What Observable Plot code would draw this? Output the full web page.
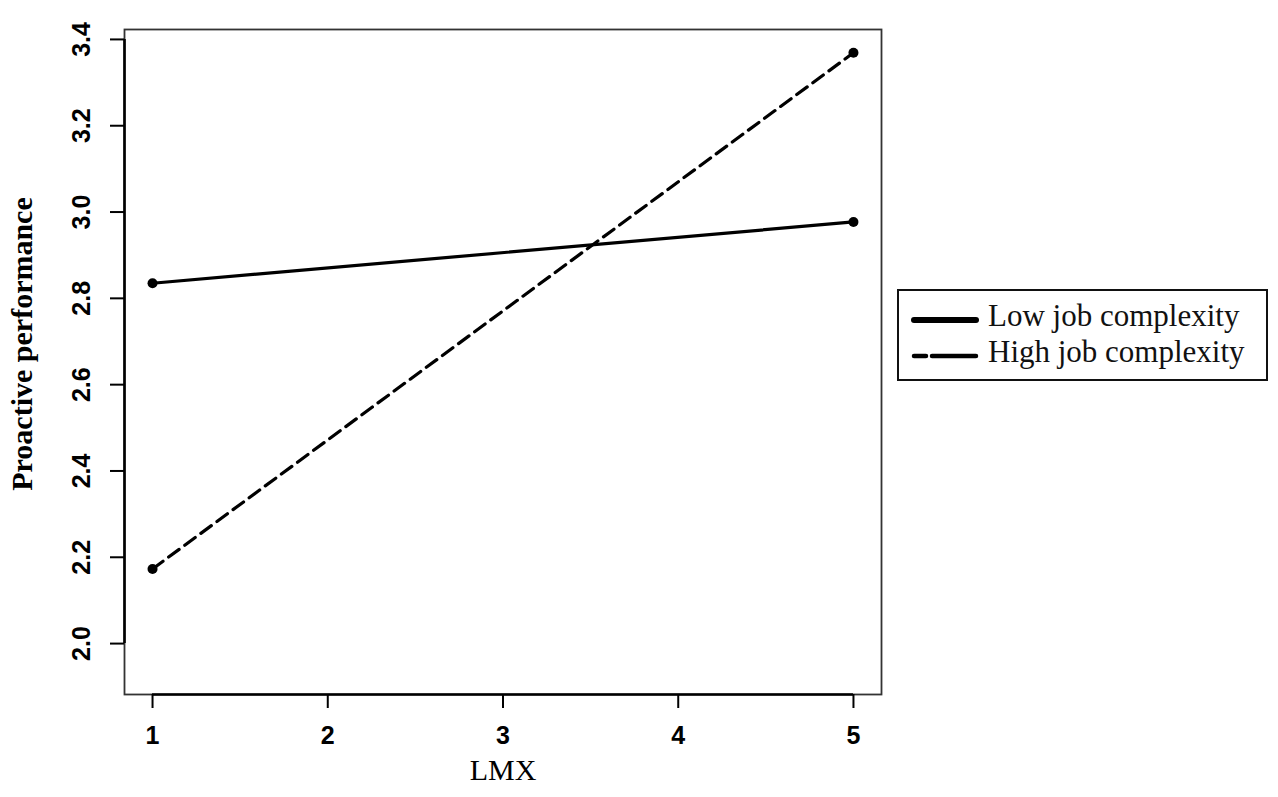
<!DOCTYPE html>
<html>
<head>
<meta charset="utf-8">
<script src="https://cdn.jsdelivr.net/npm/d3@7"></script>
<script src="https://cdn.jsdelivr.net/npm/@observablehq/plot@0.6"></script>
<style>
  html, body { margin: 0; padding: 0; background: #fff; }
  #wrap { position: relative; width: 1278px; height: 797px; }
  #legend { position: absolute; left: 897px; top: 289px; }
</style>
</head>
<body>
<div id="wrap"><div id="legend"></div></div>
<script>
// ---- data ----
const lmx = [1, 5];
const seriesNames = ["Low job complexity", "High job complexity"];
const lowValues = [2.835, 2.977];
const highValues = [2.173, 3.369];
const xTicks = [1, 2, 3, 4, 5];
const yTicks = [2.0, 2.2, 2.4, 2.6, 2.8, 3.0, 3.2, 3.4];
const xLabel = "LMX";
const yLabel = "Proactive performance";

const xDomain = [0.84, 5.16];
const yDomain = [1.882, 3.423];

const rows = [];
lmx.forEach((x, i) => rows.push({series: seriesNames[0], x, y: lowValues[i]}));
lmx.forEach((x, i) => rows.push({series: seriesNames[1], x, y: highValues[i]}));
const lowRows = rows.filter(d => d.series === seriesNames[0]);
const highRows = rows.filter(d => d.series === seriesNames[1]);

const sans = "'Liberation Sans', Arial, sans-serif";
const serif = "'Liberation Serif', 'Times New Roman', serif";

const chart = Plot.plot({
  width: 1278,
  height: 797,
  marginLeft: 124,
  marginRight: 397,
  marginTop: 29,
  marginBottom: 103,
  style: {background: "#fff", color: "#000"},
  x: {domain: xDomain},
  y: {domain: yDomain},
  marks: [
    Plot.frame({stroke: "#333", strokeWidth: 1.8}),
    // axis lines spanning tick range
    Plot.ruleX([xDomain[0]], {y1: yTicks[0], y2: yTicks[yTicks.length - 1], stroke: "#000", strokeWidth: 2.6}),
    Plot.ruleY([yDomain[0]], {x1: xTicks[0], x2: xTicks[xTicks.length - 1], stroke: "#000", strokeWidth: 2.6}),
    Plot.axisX({ticks: xTicks, tickSize: 14, tickFormat: () => "", strokeWidth: 2, label: null}),
    Plot.axisY({ticks: yTicks, tickSize: 14, tickFormat: () => "", strokeWidth: 2, label: null}),
    Plot.text(xTicks, {x: d => d, text: d => String(d), frameAnchor: "bottom", dy: 41,
      textAnchor: "middle", lineAnchor: "middle",
      fontSize: 25, fontWeight: "bold", fontFamily: sans, fill: "#000"}),
    Plot.text(yTicks, {y: d => d, text: d => d.toFixed(1), frameAnchor: "left", dx: -43,
      rotate: -90, textAnchor: "middle", lineAnchor: "middle",
      fontSize: 25, fontWeight: "bold", fontFamily: sans, fill: "#000"}),
    Plot.text([xLabel], {frameAnchor: "bottom", dy: 76, text: d => d, lineAnchor: "middle",
      fontSize: 30, fontFamily: serif, fill: "#000"}),
    Plot.text([yLabel], {frameAnchor: "left", dx: -102, dy: -18, text: d => d, rotate: -90,
      textAnchor: "middle", lineAnchor: "middle",
      fontSize: 30, fontWeight: "bold", fontFamily: serif, fill: "#000"}),
    Plot.line(lowRows, {x: "x", y: "y", stroke: "#000", strokeWidth: 3.2}),
    Plot.line(highRows, {x: "x", y: "y", stroke: "#000", strokeWidth: 3.2, strokeDasharray: "13,7"}),
    Plot.dot(rows, {x: "x", y: "y", r: 5, fill: "#000", stroke: "none"})
  ]
});
document.getElementById("wrap").prepend(chart);

// ---- legend ----
const lw = 371, lh = 92;
const leg = d3.select("#legend").append("svg")
  .attr("width", lw).attr("height", lh);
leg.append("rect").attr("x", 1).attr("y", 1).attr("width", lw - 2).attr("height", lh - 2)
  .attr("fill", "#fff").attr("stroke", "#111").attr("stroke-width", 2);
const dashes = [null, "12,6,45,6"];
seriesNames.forEach((name, i) => {
  const cy = 31 + i * 36;
  leg.append("line").attr("x1", 17).attr("x2", 79).attr("y1", cy).attr("y2", cy)
    .attr("stroke", "#000").attr("stroke-width", i === 0 ? 6 : 4.5)
    .attr("stroke-dasharray", dashes[i]).attr("stroke-linecap", "round");
  leg.append("text").attr("x", 91).attr("y", cy - 1).attr("font-family", serif)
    .attr("font-size", 31).attr("fill", "#111").attr("dominant-baseline", "middle")
    .text(name);
});
</script>
</body>
</html>
